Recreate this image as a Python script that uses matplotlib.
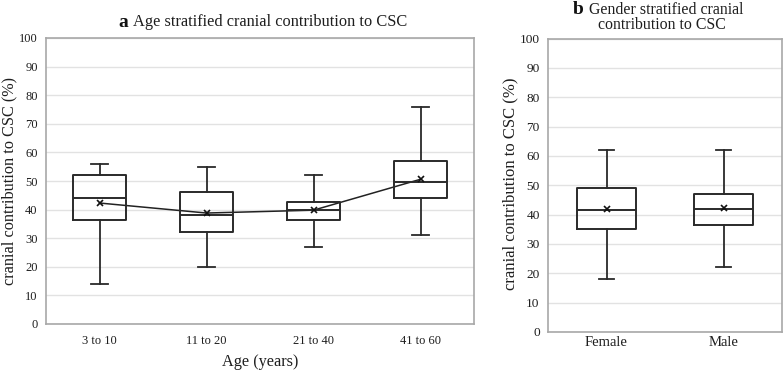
import matplotlib
matplotlib.use("Agg")
import matplotlib.pyplot as plt

plt.rcParams['font.family'] = ['Liberation Serif', 'DejaVu Serif']

# Panel a data
age_groups = ["3 to 10", "11 to 20", "21 to 40", "41 to 60"]
age_whislo = [14, 20, 27, 31]
age_q1 = [36.5, 32, 36.3, 44]
age_med = [44, 38, 40, 49.5]
age_q3 = [52, 46, 42.8, 57]
age_whishi = [56, 55, 52, 76]
age_mean = [42.3, 38.8, 39.8, 50.6]

# Panel b data
genders = ["Female", "Male"]
gen_whislo = [18, 22]
gen_q1 = [35.2, 36.3]
gen_med = [41.5, 42]
gen_q3 = [49, 47]
gen_whishi = [62, 62]
gen_mean = [41.9, 42.2]

yticks = list(range(0, 101, 10))

fig = plt.figure(figsize=(7.84, 3.70), dpi=100)
axa = fig.add_axes([46/784, 1-324/370, (474-46)/784, (324-38)/370])
axb = fig.add_axes([548/784, 1-332/370, (782-548)/784, (332-38.5)/370])

def stats(lo, q1, med, q3, hi, mean, labels):
    return [dict(whislo=a, q1=b, med=c, q3=d, whishi=e, mean=f, label=g, fliers=[])
            for a, b, c, d, e, f, g in zip(lo, q1, med, q3, hi, mean, labels)]

def style(ax, sts, capw, ytick_size, xtick_size, xpad):
    pos = list(range(1, len(sts)+1))
    ax.bxp(sts, positions=pos, widths=0.5, showmeans=True, patch_artist=False,
           boxprops=dict(color='#2a2a2a', linewidth=1.4),
           medianprops=dict(color='#2a2a2a', linewidth=1.4),
           whiskerprops=dict(color='#2a2a2a', linewidth=1.3),
           capprops=dict(color='#2a2a2a', linewidth=1.3),
           capwidths=capw,
           meanprops=dict(marker='x', markeredgecolor='#111111', markersize=5, markeredgewidth=1.2))
    ax.set_xlim(0.5, len(sts)+0.5)
    ax.set_ylim(0, 100)
    ax.set_yticks(yticks)
    ax.yaxis.grid(True, color='#e2e2e2', linewidth=1.0)
    ax.set_axisbelow(True)
    for s in ax.spines.values():
        s.set_color('#a8a8a8')
        s.set_linewidth(1.2)
    ax.tick_params(axis='y', length=0, labelsize=ytick_size, colors='#1e1e1e', pad=6)
    ax.tick_params(axis='x', length=0, labelsize=xtick_size, colors='#1e1e1e', pad=xpad)
    return pos

pa = style(axa, stats(age_whislo, age_q1, age_med, age_q3, age_whishi, age_mean, age_groups),
           0.15, 9.0, 9.0, 8)
axa.plot(pa, age_mean, color='#222222', linewidth=1.1, zorder=1)
axa.set_xlabel("Age (years)", fontsize=11.7, color='#1e1e1e', labelpad=5)
axa.set_ylabel("cranial contribution to CSC (%)", fontsize=11.7, color='#1e1e1e')
axa.yaxis.set_label_coords(-0.068, 0.5)

pb = style(axb, stats(gen_whislo, gen_q1, gen_med, gen_q3, gen_whishi, gen_mean, genders),
           0.12, 9.6, 10.5, 3)
axb.set_ylabel("cranial contribution to CSC (%)", fontsize=12, color='#1e1e1e')
axb.yaxis.set_label_coords(-0.128, 0.504)

# Titles
fig.text(118/784, 1-22.5/370, "a", fontsize=14, fontweight='bold', va='center', ha='left', color='#111111')
fig.text(133/784, 1-22.5/370, "Age stratified cranial contribution to CSC", fontsize=11.8,
         va='center', ha='left', color='#1e1e1e')
fig.text(573/784, 1-9.5/370, "b", fontsize=14, fontweight='bold', va='center', ha='left', color='#111111')
fig.text(589/784, 1-9.5/370, "Gender stratified cranial", fontsize=11.4, va='center', ha='left', color='#1e1e1e')
fig.text(661.5/784, 1-25/370, "contribution to CSC", fontsize=11.4, va='center', ha='center', color='#1e1e1e')

fig.savefig("out.png", dpi=100)
